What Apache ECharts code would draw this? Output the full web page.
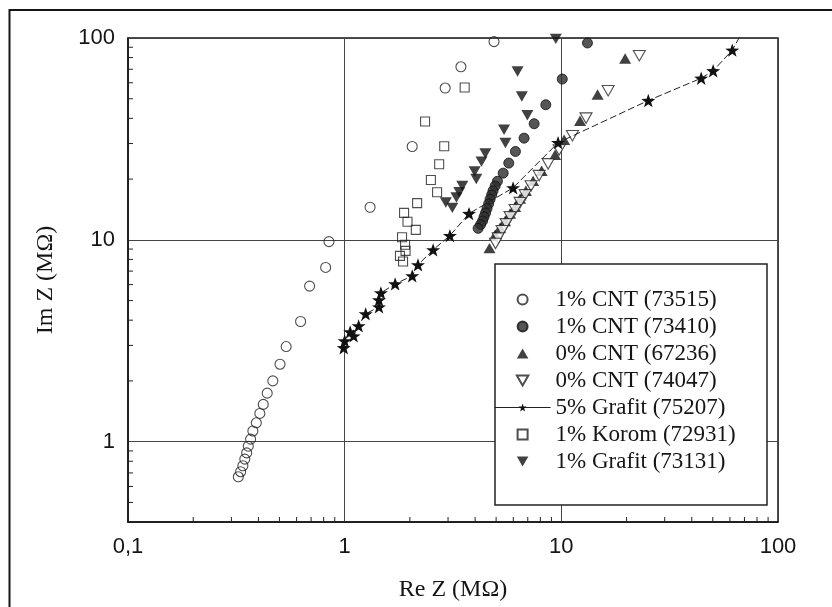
<!DOCTYPE html>
<html><head><meta charset="utf-8">
<script src="https://cdn.jsdelivr.net/npm/echarts@6/dist/echarts.min.js"></script>
<style>html,body{margin:0;padding:0;background:#fff}#c{width:832px;height:607px}</style>
</head><body><div id="c"></div>
<script>
// ---- data (Re Z, Im Z in MOhm) ----
const cnt73515 = [[4.89,96],[3.44,72],[2.91,56.5],[2.05,29],[1.31,14.5],[0.846,9.8],[0.817,7.3],[0.689,5.9],[0.626,3.94],[0.537,2.96],[0.503,2.42],[0.466,2.0],[0.439,1.74],[0.421,1.53],[0.406,1.38],[0.391,1.24],[0.377,1.13],[0.368,1.03],[0.359,0.95],[0.353,0.88],[0.346,0.82],[0.339,0.76],[0.331,0.71],[0.323,0.67]];
const cnt73410 = [[13.2,94.5],[10.1,62.6],[8.48,46.7],[7.49,37.6],[6.73,31.9],[6.14,27.4],[5.72,24.0],[5.39,21.4],[5.07,19.5],[4.95,18.5],[4.84,17.5],[4.77,16.7],[4.69,15.9],[4.62,15.1],[4.54,14.3],[4.47,13.6],[4.40,13.0],[4.33,12.4],[4.24,11.9],[4.13,11.4]];
const cnt67236 = [[19.7,79.1],[14.7,52.5],[12.2,38.9],[10.3,31.3],[9.36,26.4],[8.11,22.0],[7.41,19.6],[6.86,17.5],[6.45,16.0],[6.12,14.6],[5.80,13.5],[5.50,12.4],[5.22,11.5],[4.95,10.6],[4.66,9.1]];
const cnt74047 = [[22.9,81.7],[16.45,54.8],[13.0,40.1],[11.25,32.8],[9.77,27.9],[8.69,23.8],[7.90,20.8],[7.25,18.5],[6.81,16.7],[6.45,15.3],[6.12,14.1],[5.80,13.0],[5.56,12.0],[5.33,11.1],[5.11,10.2],[4.97,9.6]];
const grafit75207 = [[0.99,2.92],[1.0,3.16],[1.06,3.5],[1.10,3.34],[1.16,3.75],[1.25,4.3],[1.44,4.65],[1.44,5.04],[1.47,5.46],[1.71,6.05],[2.05,6.63],[2.18,7.52],[2.56,8.92],[3.06,10.5],[3.75,13.5],[5.99,18.1],[9.66,30.3],[25.2,49],[44.2,63.2],[50.2,68.8],[61.5,87],[70,112]];
const korom72931 = [[3.58,56.9],[2.35,38.6],[2.88,29.1],[2.73,23.7],[2.50,19.8],[2.67,17.2],[2.16,15.2],[1.88,13.6],[1.95,12.3],[2.13,11.2],[1.84,10.3],[1.90,9.45],[1.91,8.82],[1.80,8.33],[1.86,7.81]];
const grafit73131 = [[9.43,99],[6.28,68.3],[6.57,51.3],[6.97,41.4],[5.44,35.1],[5.52,30.2],[4.46,26.8],[4.28,24.4],[3.98,21.8],[4.05,20.0],[3.49,18.5],[3.38,17.2],[3.28,16.2],[2.93,15.3],[3.14,14.4]];

const seriesNames = ['1% CNT (73515)','1% CNT (73410)','0% CNT (67236)','0% CNT (74047)','5% Grafit (75207)','1% Korom (72931)','1% Grafit (73131)'];

// ---- axes ----
const X_MIN = 0.1, X_MAX = 100, Y_MIN = 0.4, Y_MAX = 100;
const xTickValues = [0.1, 1, 10, 100];
const xTickLabels = ['0,1', '1', '10', '100'];
const yTickValues = [1, 10, 100];
const yTickLabels = ['1', '10', '100'];
const xMinorTicks = [0.2,0.3,0.4,0.5,0.6,0.7,0.8,0.9,2,3,4,5,6,7,8,9,20,30,40,50,60,70,80,90];
const yMinorTicks = [0.5,0.6,0.7,0.8,0.9,2,3,4,5,6,7,8,9,20,30,40,50,60,70,80,90];

function labelFor(values, labels) {
  return function (v) {
    const i = values.findIndex(t => Math.abs(Math.log10(t) - Math.log10(v)) < 1e-6);
    return i >= 0 ? labels[i] : '';
  };
}

const INK = '#151515';
const SERIF = 'Liberation Serif';
const STAR = 'path://M0,-10 L2.35,-3.24 L9.51,-3.09 L3.8,1.24 L5.88,8.09 L0,4 L-5.88,8.09 L-3.8,1.24 L-9.51,-3.09 L-2.35,-3.24 Z';
const TRI_UP = 'path://M5,0 L10,8.7 L0,8.7 Z';
const TRI_DOWN = 'path://M0,0 L10,0 L5,8.7 Z';
const SQUARE = 'path://M0,0 L10,0 L10,10 L0,10 Z';
const legendText = {fontFamily: SERIF, fontSize: 23, lineHeight: 23, color: INK};

const chart = echarts.init(document.getElementById('c'), null, {renderer: 'canvas'});
chart.setOption({
  animation: false,
  backgroundColor: '#fff',
  grid: {left: 128, right: 54, top: 38, bottom: 85, show: true, borderColor: INK, borderWidth: 1.5, outerBoundsMode: 'none'},
  xAxis: {
    type: 'log', logBase: 10, min: X_MIN, max: X_MAX,
    name: 'Re Z (M\u03A9)', nameLocation: 'middle', nameGap: 56,
    nameTextStyle: {fontFamily: SERIF, fontSize: 24, color: INK},
    axisLine: {show: true, lineStyle: {color: INK, width: 1.5}},
    axisTick: {show: false},
    axisLabel: {formatter: labelFor(xTickValues, xTickLabels), fontFamily: 'Liberation Sans', fontSize: 22, color: INK, margin: 14, showMinLabel: true, showMaxLabel: true},
    splitLine: {show: true, lineStyle: {color: '#444', width: 1}}
  },
  yAxis: {
    type: 'log', logBase: 10, min: Y_MIN, max: Y_MAX,
    name: 'Im Z (M\u03A9)', nameLocation: 'middle', nameGap: 70, nameRotate: 90,
    nameTextStyle: {fontFamily: SERIF, fontSize: 24, color: INK},
    axisLine: {show: true, lineStyle: {color: INK, width: 1.5}},
    axisTick: {show: false},
    axisLabel: {formatter: labelFor(yTickValues, yTickLabels), fontFamily: 'Liberation Sans', fontSize: 22, color: INK, margin: 13, showMinLabel: true, showMaxLabel: true},
    splitLine: {show: true, lineStyle: {color: '#444', width: 1}}
  },
  legend: {
    orient: 'vertical', left: 494, top: 288, z: 10,
    itemWidth: 56, itemHeight: 10, itemGap: 4, padding: 0,
    textStyle: legendText,
    lineStyle: {type: 'solid', width: 1.2},
    data: seriesNames.map(n => ({name: n, textStyle: legendText}))
  },
  graphic: [
    {type: 'rect', z: 5, shape: {x: 495, y: 264, width: 272, height: 241}, style: {fill: '#fff', stroke: '#222', lineWidth: 1.5}},
    {type: 'rect', z: 5, shape: {x: 9.5, y: 10, width: 840, height: 620}, style: {fill: 'none', stroke: INK, lineWidth: 2}}
  ],
  series: [
    {name: seriesNames[0], type: 'scatter', data: cnt73515, symbol: 'circle', symbolSize: 10,
     itemStyle: {color: 'rgba(255,255,255,0)', borderColor: '#222', borderWidth: 1.1}},
    {name: seriesNames[1], type: 'scatter', data: cnt73410, symbol: 'circle', symbolSize: 10,
     itemStyle: {color: '#2c2c2c', borderColor: '#111', borderWidth: 1}},
    {name: seriesNames[2], type: 'scatter', data: cnt67236, symbol: TRI_UP, symbolKeepAspect: true, symbolSize: 12,
     itemStyle: {color: '#111'}},
    {name: seriesNames[3], type: 'scatter', data: cnt74047, symbol: TRI_DOWN, symbolKeepAspect: true, symbolSize: 12,
     itemStyle: {color: '#fff', borderColor: '#222', borderWidth: 1.1}},
    {name: seriesNames[4], type: 'line', data: grafit75207, symbol: STAR, symbolKeepAspect: true, symbolSize: 14, showAllSymbol: true,
     lineStyle: {color: '#222', width: 1, type: [7, 3]}, itemStyle: {color: '#111', borderWidth: 0}, clip: true},
    {name: seriesNames[5], type: 'scatter', data: korom72931, symbol: SQUARE, symbolKeepAspect: true, symbolSize: 9,
     itemStyle: {color: 'rgba(255,255,255,0)', borderColor: '#222', borderWidth: 1.1}},
    {name: seriesNames[6], type: 'scatter', data: grafit73131, symbol: TRI_DOWN, symbolKeepAspect: true, symbolSize: 12,
     itemStyle: {color: '#111'}},
    {type: 'custom', silent: true, z: 3, clip: false,
     dimensions: ['x', 'y', 'k'],
     data: xMinorTicks.map(v => [v, Y_MIN, 0]).concat(yMinorTicks.map(v => [X_MIN, v, 1])),
     renderItem: function (params, api) {
       const p = api.coord([api.value(0), api.value(1)]);
       const k = api.value(2);
       const shape = k === 0 ? {x1: p[0], y1: p[1], x2: p[0], y2: p[1] - 5} : {x1: p[0], y1: p[1], x2: p[0] + 5, y2: p[1]};
       return {type: 'line', shape: shape, style: {stroke: '#222', lineWidth: 1}};
     }}
  ]
});
</script></body></html>
